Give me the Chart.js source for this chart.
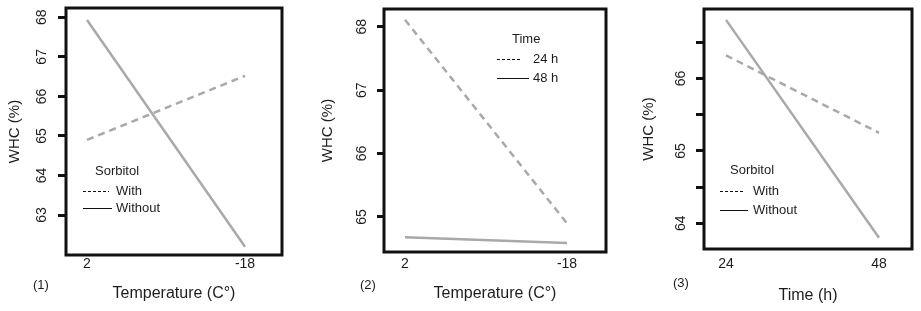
<!DOCTYPE html>
<html>
<head>
<meta charset="utf-8">
<script src="https://cdn.jsdelivr.net/npm/chart.js@4.4.1/dist/chart.umd.min.js"></script>
<style>
  body { margin: 0; background: #fff; width: 921px; height: 311px; overflow: hidden; position: relative;
         font-family: 'Liberation Sans', Arial, sans-serif; color: #1d1d1d; }
  .panel { position: absolute; top: 0; height: 311px; }
  .t { position: absolute; white-space: nowrap; font-size: 13px; line-height: 16px; }
  .ln { position: absolute; height: 1px; background: #111; }
  .ln.dash { background: repeating-linear-gradient(90deg, #111 0 3px, transparent 3px 5px); }
</style>
</head>
<body>
<div class="panel" style="left:0;width:300px"><canvas id="c1" width="300" height="311"></canvas></div>
<div class="panel" style="left:300px;width:315px"><canvas id="c2" width="315" height="311"></canvas></div>
<div class="panel" style="left:615px;width:306px"><canvas id="c3" width="306" height="311"></canvas></div>
<div id="legends"></div>

<script>
// x values
const tempValues = [2, -18];
const timeValues = [24, 48];

// panel 1: WHC vs temperature, by sorbitol
const p1With = [64.9, 66.52];
const p1Without = [67.93, 62.2];
// panel 2: WHC vs temperature, by time
const p2Time24 = [68.11, 64.9];
const p2Time48 = [64.68, 64.59];
// panel 3: WHC vs time, by sorbitol
const p3With = [66.32, 65.25];
const p3Without = [66.81, 63.8];

// y tick values
const p1YTicks = [63, 64, 65, 66, 67, 68];
const p2YTicks = [65, 66, 67, 68];
const p3YTicks = [64, 64.5, 65, 65.5, 66, 66.5];

// texts
const yTitle = 'WHC (%)';
const tempTitle = 'Temperature (C\u00B0)';
const timeTitle = 'Time (h)';
const sorbitolTitle = 'Sorbitol';
const sorbitolLabels = ['With', 'Without'];
const timeLegendTitle = 'Time';
const timeLegendLabels = ['24 h', '48 h'];
const panelTags = ['(1)', '(2)', '(3)'];

Chart.defaults.font.family = "'Liberation Sans', Arial, sans-serif";
Chart.defaults.color = '#1d1d1d';

const LINE_GRAY = '#a9a9a9';

// black frame round the plot area
const boxPlugin = {
  id: 'box',
  afterDraw(chart) {
    const { ctx, chartArea: a } = chart;
    ctx.save();
    ctx.strokeStyle = '#111';
    ctx.lineWidth = 3;
    ctx.strokeRect(a.left, a.top, a.right - a.left, a.bottom - a.top);
    ctx.restore();
  }
};

function pts(xs, ys) {
  return xs.map((x, i) => ({ x: x, y: ys[i] }));
}

// keep the plot box where we put it, labels may overhang
function noPad(s) {
  s.paddingTop = 0;
  s.paddingBottom = 0;
  s.paddingLeft = 0;
  s.paddingRight = 0;
}

function makePanel(id, p) {
  return new Chart(document.getElementById(id), {
    type: 'line',
    data: {
      datasets: [
        { data: pts(p.xs, p.dashed), borderColor: LINE_GRAY, borderWidth: 2.5, borderDash: [7, 5], pointRadius: 0 },
        { data: pts(p.xs, p.solid), borderColor: LINE_GRAY, borderWidth: 2.5, pointRadius: 0 }
      ]
    },
    options: {
      responsive: false,
      animation: false,
      layout: { padding: { left: 0, top: p.top, right: p.right, bottom: 0 } },
      plugins: { legend: { display: false }, tooltip: { enabled: false } },
      scales: {
        x: {
          type: 'linear',
          reverse: p.reverse,
          min: p.xMin,
          max: p.xMax,
          afterBuildTicks: s => { s.ticks = p.xs.map(v => ({ value: v })); },
          afterFit: s => { s.height = p.xHeight; noPad(s); },
          grid: { display: false, drawTicks: false },
          border: { display: false },
          ticks: { font: { size: 14 }, padding: p.xPad, maxRotation: 0, autoSkip: false,
                   callback: v => String(v) },
          title: { display: true, text: p.xTitle, font: { size: 16 }, padding: { top: 0, bottom: p.xTitlePad } }
        },
        y: {
          min: p.yMin,
          max: p.yMax,
          afterBuildTicks: s => { s.ticks = p.yTicks.map(v => ({ value: v })); },
          afterFit: s => { s.width = p.yWidth; noPad(s); },
          grid: { display: true, drawOnChartArea: false, drawTicks: true, tickLength: p.tickLen,
                  tickWidth: 3, tickColor: '#111' },
          border: { display: false },
          ticks: { font: { size: 14 }, minRotation: 90, maxRotation: 90, crossAlign: 'center',
                   padding: p.yPad, autoSkip: false,
                   callback: v => Number.isInteger(v) ? String(v) : '' },
          title: { display: true, text: yTitle, font: { size: 15 }, padding: { top: p.yTitlePad, bottom: 0 } }
        }
      }
    },
    plugins: [boxPlugin]
  });
}

makePanel('c1', {
  xs: tempValues, dashed: p1With, solid: p1Without, reverse: true,
  xMin: -22.68, xMax: 4.66, yMin: 61.99, yMax: 68.235, yTicks: p1YTicks,
  top: 8, right: 18, xHeight: 56, yWidth: 66, xPad: 1, xTitle: tempTitle, xTitlePad: 8,
  tickLen: 8, yPad: 8, yTitlePad: 6
});
makePanel('c2', {
  xs: tempValues, dashed: p2Time24, solid: p2Time48, reverse: true,
  xMin: -22.81, xMax: 4.59, yMin: 64.448, yMax: 68.28, yTicks: p2YTicks,
  top: 9, right: 9, xHeight: 59, yWidth: 84, xPad: 4, xTitle: tempTitle, xTitlePad: 8,
  tickLen: 7, yPad: 7, yTitlePad: 19
});
makePanel('c3', {
  xs: timeValues, dashed: p3With, solid: p3Without, reverse: false,
  xMin: 20.55, xMax: 53.18, yMin: 63.645, yMax: 66.96, yTicks: p3YTicks,
  top: 9, right: 9, xHeight: 62, yWidth: 89, xPad: 7, xTitle: timeTitle, xTitlePad: 6,
  tickLen: 8, yPad: 7, yTitlePad: 25
});

// legends (html overlay)
const host = document.getElementById('legends');
function addText(txt, left, cy) {
  const d = document.createElement('div');
  d.className = 't';
  d.textContent = txt;
  d.style.left = left + 'px';
  d.style.top = (cy - 8) + 'px';
  host.appendChild(d);
}
function addLine(x1, x2, y, dashed) {
  const d = document.createElement('div');
  d.className = dashed ? 'ln dash' : 'ln';
  d.style.left = x1 + 'px';
  d.style.width = (x2 - x1) + 'px';
  d.style.top = Math.round(y) + 'px';
  host.appendChild(d);
}
function addLegend(title, labels, lg) {
  addText(title, lg.titleX, lg.titleY);
  labels.forEach((lab, i) => {
    addLine(lg.lineX, lg.lineEnds[i], lg.rowY[i], i === 0);
    addText(lab, lg.textX, lg.rowY[i]);
  });
}
addLegend(sorbitolTitle, sorbitolLabels, { titleX: 95, titleY: 171, lineX: 83, lineEnds: [109, 112], rowY: [191, 208], textX: 116 });
addLegend(timeLegendTitle, timeLegendLabels, { titleX: 512, titleY: 39, lineX: 497, lineEnds: [522, 529], rowY: [59, 78], textX: 533 });
addLegend(sorbitolTitle, sorbitolLabels, { titleX: 730, titleY: 170, lineX: 720, lineEnds: [745, 748], rowY: [191, 210], textX: 753 });

addText(panelTags[0], 33, 285);
addText(panelTags[1], 360, 285);
addText(panelTags[2], 673, 283);
</script>
</body>
</html>
